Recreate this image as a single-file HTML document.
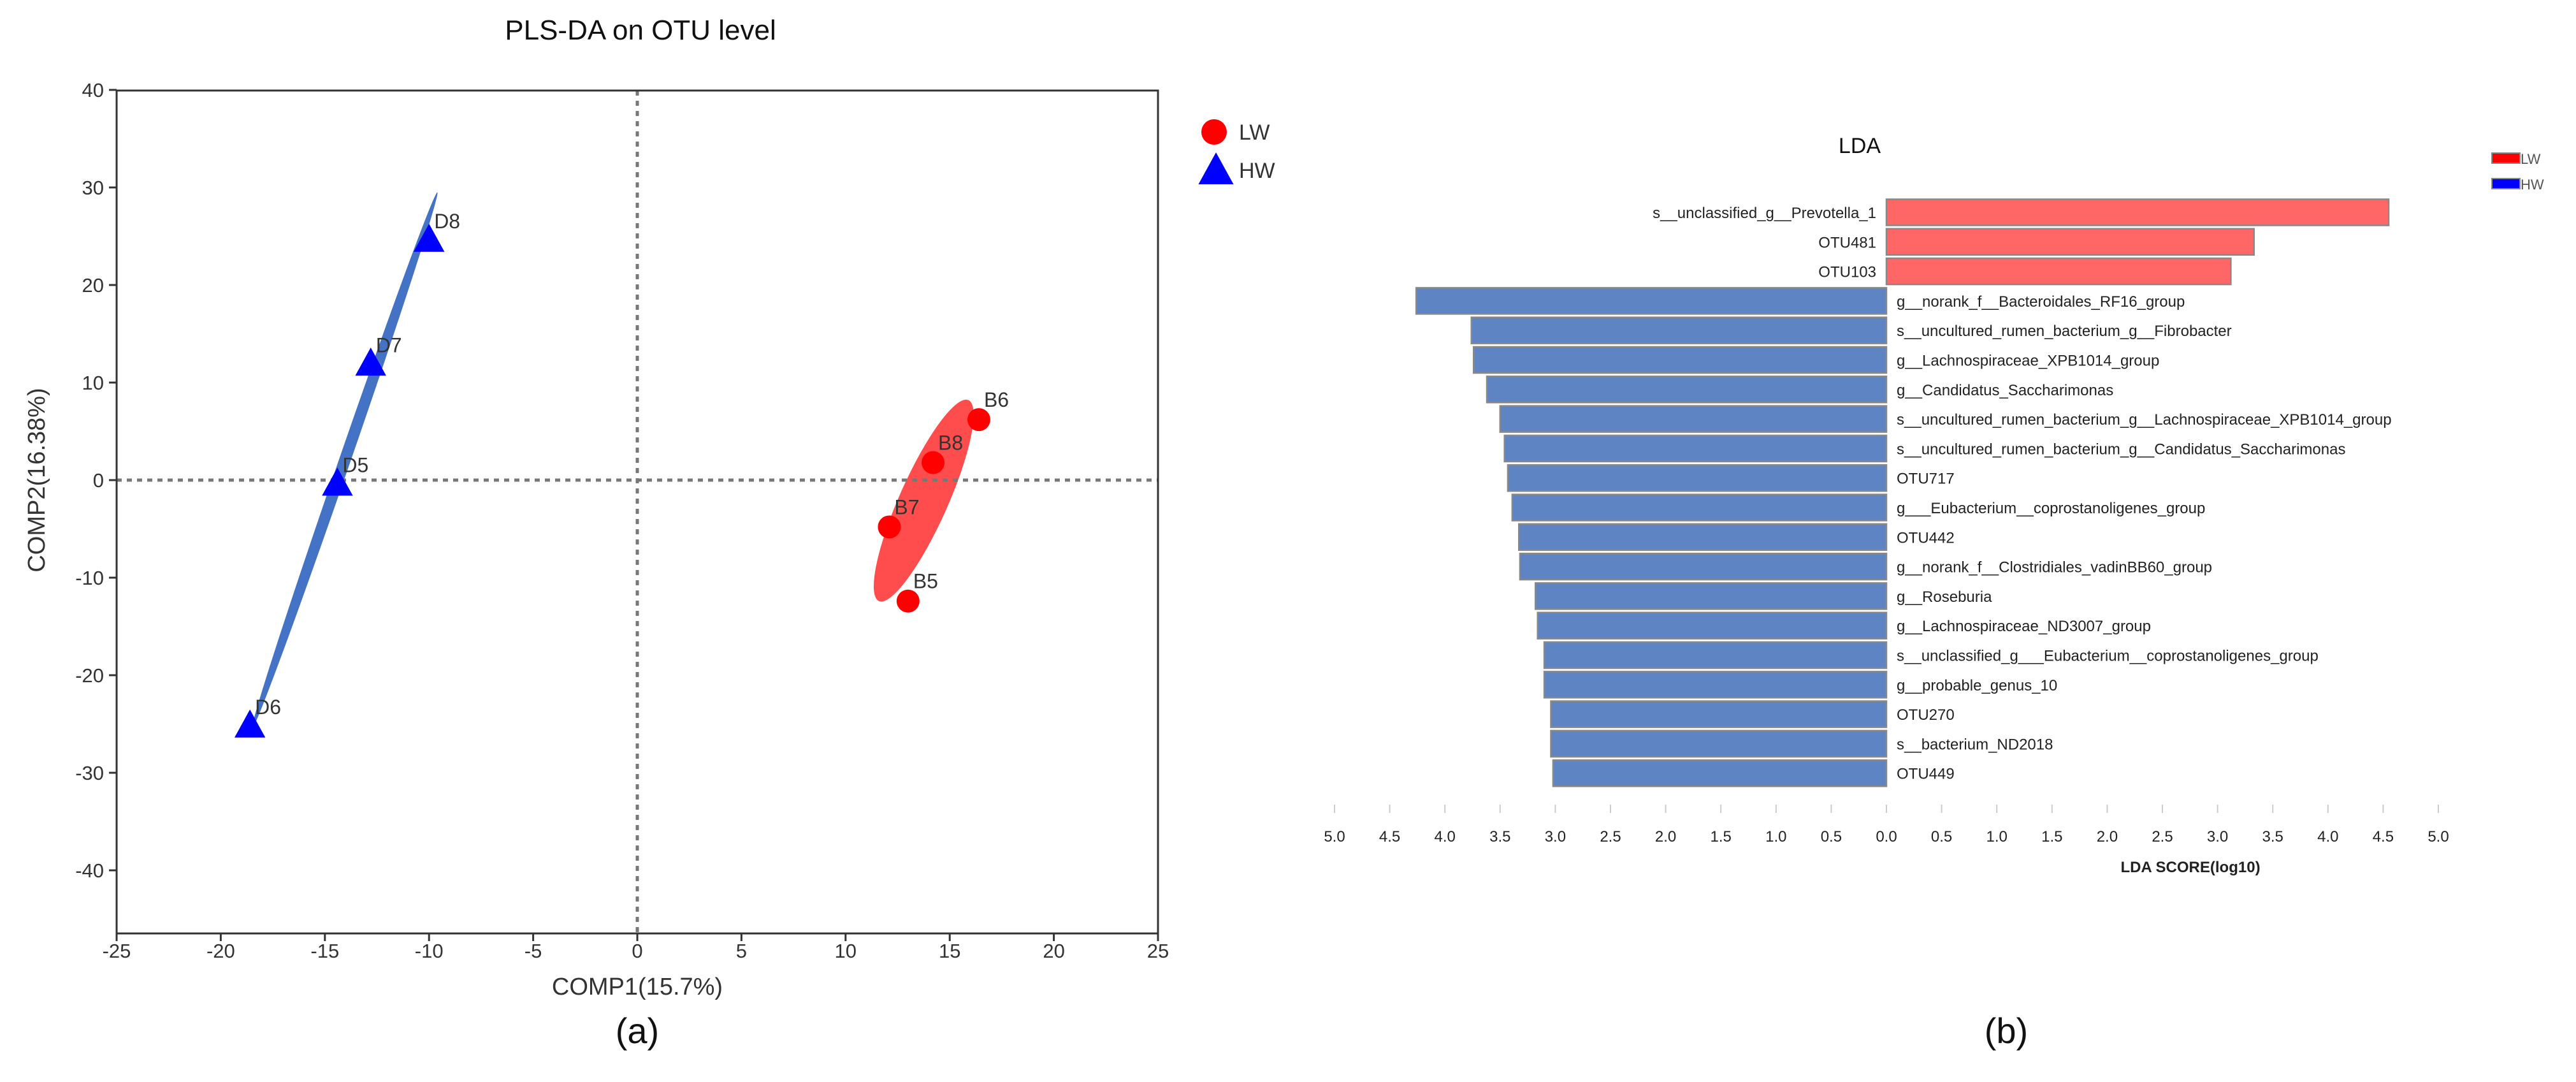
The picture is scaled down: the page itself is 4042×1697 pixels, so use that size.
<!DOCTYPE html>
<html><head><meta charset="utf-8"><style>
html,body{margin:0;padding:0;background:#fff}
svg{display:block;font-family:"Liberation Sans",Arial,sans-serif}
</style></head><body>
<svg id="fig" width="4042" height="1697" viewBox="0 0 4042 1697" xmlns="http://www.w3.org/2000/svg">
<g id="pls"></g>
<g id="lda"></g>
</svg>
<script>
// ---- PLS-DA data ----
const plsLabels = ["D8","D7","D5","D6","B6","B8","B7","B5"];
const plsX = [-10.0,-12.8,-14.4,-18.6,16.4,14.2,12.1,13.0];
const plsY = [24.5,11.8,-0.5,-25.3,6.2,1.8,-4.8,-12.4];
const plsGroup = ["HW","HW","HW","HW","LW","LW","LW","LW"];
const xTicks = [-25,-20,-15,-10,-5,0,5,10,15,20,25];
const yTicks = [40,30,20,10,0,-10,-20,-30,-40];
const blueEllipseEnds = [[-18.5,-25.5],[-9.6,29.5]];
const redEllipseEnds = [[15.9,8.2],[11.6,-12.4]];
// ---- LDA data ----
const ldaNames = ["s__unclassified_g__Prevotella_1","OTU481","OTU103","g__norank_f__Bacteroidales_RF16_group","s__uncultured_rumen_bacterium_g__Fibrobacter","g__Lachnospiraceae_XPB1014_group","g__Candidatus_Saccharimonas","s__uncultured_rumen_bacterium_g__Lachnospiraceae_XPB1014_group","s__uncultured_rumen_bacterium_g__Candidatus_Saccharimonas","OTU717","g___Eubacterium__coprostanoligenes_group","OTU442","g__norank_f__Clostridiales_vadinBB60_group","g__Roseburia","g__Lachnospiraceae_ND3007_group","s__unclassified_g___Eubacterium__coprostanoligenes_group","g__probable_genus_10","OTU270","s__bacterium_ND2018","OTU449"];
const ldaValues = [4.55,3.33,3.12,4.26,3.76,3.74,3.62,3.50,3.46,3.43,3.39,3.33,3.32,3.18,3.16,3.10,3.10,3.04,3.04,3.02];
const ldaGroup = ["LW","LW","LW","HW","HW","HW","HW","HW","HW","HW","HW","HW","HW","HW","HW","HW","HW","HW","HW","HW"];
const ldaTicks = [5.0,4.5,4.0,3.5,3.0,2.5,2.0,1.5,1.0,0.5,0.0,0.5,1.0,1.5,2.0,2.5,3.0,3.5,4.0,4.5,5.0];

const NS="http://www.w3.org/2000/svg";
function mk(parent,tag,attrs,text){const e=document.createElementNS(NS,tag);for(const k in attrs)e.setAttribute(k,attrs[k]);if(text!==undefined)e.textContent=text;parent.appendChild(e);return e;}

// ===== PLS-DA =====
const P=document.getElementById('pls');
const L=183,R=1817,T=142,B=1464;
const sx=v=>1000+v*(1817-183)/50;
const sy=v=>753-v*15.3;
let t=mk(P,'text',{x:1005,y:62,'font-size':44,'text-anchor':'middle',fill:'#111'},'PLS-DA on OTU level');


function ell(ends,minor,color,name){
  const x1=sx(ends[0][0]),y1=sy(ends[0][1]),x2=sx(ends[1][0]),y2=sy(ends[1][1]);
  const cx=(x1+x2)/2,cy=(y1+y2)/2,len=Math.hypot(x2-x1,y2-y1)/2,ang=Math.atan2(y2-y1,x2-x1)*180/Math.PI;
  const e=mk(P,'ellipse',{cx:cx,cy:cy,rx:len,ry:minor,fill:color,transform:`rotate(${ang} ${cx} ${cy})`});
  
  
}
ell(blueEllipseEnds,9,'#4472c4','hw-ellipse');
ell(redEllipseEnds,38,'#ff4d4d','lw-ellipse');
let z=mk(P,'line',{x1:L,x2:R,y1:sy(0),y2:sy(0),stroke:'#777','stroke-width':5,'stroke-dasharray':'8,8'});


z=mk(P,'line',{x1:sx(0),x2:sx(0),y1:T,y2:B,stroke:'#777','stroke-width':5,'stroke-dasharray':'8,8'});


let fr=mk(P,'rect',{x:L,y:T,width:R-L,height:B-T,fill:'none',stroke:'#333','stroke-width':3});


xTicks.forEach(v=>{
  const x=sx(v);
  mk(P,'line',{x1:x,x2:x,y1:B,y2:B+12,stroke:'#333','stroke-width':3});
  const tt=mk(P,'text',{x:x,y:B+38,'font-size':31,'text-anchor':'middle',fill:'#333'},String(v));
  
  
});
yTicks.forEach(v=>{
  const y=sy(v);
  mk(P,'line',{x1:L-12,x2:L,y1:y,y2:y,stroke:'#333','stroke-width':3});
  const tt=mk(P,'text',{x:L-20,y:y+11,'font-size':31,'text-anchor':'end',fill:'#333'},String(v));
  
  
});
t=mk(P,'text',{x:1000,y:1560,'font-size':38,'text-anchor':'middle',fill:'#333'},'COMP1(15.7%)');


t=mk(P,'text',{x:0,y:0,'font-size':38,'text-anchor':'middle',fill:'#333',transform:`translate(70,${sy(0)}) rotate(-90)`},'COMP2(16.38%)');


t=mk(P,'text',{x:1000,y:1636,'font-size':56,'text-anchor':'middle',fill:'#111'},'(a)');


function tri(x,y,s,g,name){const p=mk(g,'polygon',{points:`${x},${y-s*0.62} ${x-s*0.55},${y+s*0.38} ${x+s*0.55},${y+s*0.38}`,fill:'#0000ff'});}
plsLabels.forEach((lab,i)=>{
  const x=sx(plsX[i]),y=sy(plsY[i]);
  if(plsGroup[i]==='HW'){tri(x,y,44,P,'point-'+lab.toLowerCase());}
  else{const c=mk(P,'circle',{cx:x,cy:y,r:18,fill:'#ff0000'});}
  const tt=mk(P,'text',{x:x+8,y:y-20,'font-size':32,fill:'#333'},lab);
  
  
});
let lc=mk(P,'circle',{cx:1905,cy:207,r:20,fill:'#ff0000'});


tri(1908,270,50,P,'legend-hw-marker');
t=mk(P,'text',{x:1944,y:219,'font-size':34,fill:'#333'},'LW');


t=mk(P,'text',{x:1944,y:279,'font-size':34,fill:'#333'},'HW');



// ===== LDA =====
const D=document.getElementById('lda');
const X0=2960,U=173.2,row0=333,rowH=46.3,barH=41;
const lx=v=>v*U;
t=mk(D,'text',{x:2918,y:240,'font-size':34,'text-anchor':'middle',fill:'#111'},'LDA');


ldaNames.forEach((n,i)=>{
  const yc=row0+i*rowH, v=ldaValues[i], lw=ldaGroup[i]==='LW';
  const w=lx(v);
  const r=mk(D,'rect',{x:lw?X0:X0-w,y:yc-barH/2,width:w,height:barH,fill:lw?'#ff6666':'#5f84c4',stroke:'#888','stroke-width':2.5});
  
  
  const tt=mk(D,'text',{x:lw?X0-16:X0+16,y:yc+9,'font-size':24,'text-anchor':lw?'end':'start',fill:'#222'},n);
  
  
});
ldaTicks.forEach((v,i)=>{
  const x=X0+(i-10)*0.5*U;
  mk(D,'line',{x1:x,x2:x,y1:1262,y2:1275,stroke:'#ccc','stroke-width':2});
  const tt=mk(D,'text',{x:x,y:1320,'font-size':24,'text-anchor':'middle',fill:'#222'},v.toFixed(1));
  
  
});
t=mk(D,'text',{x:3437,y:1368,'font-size':24,'font-weight':'bold','text-anchor':'middle',fill:'#222'},'LDA SCORE(log10)');


let lr=mk(D,'rect',{x:3910,y:240,width:44,height:16,fill:'#ff0000',stroke:'#888','stroke-width':2});


lr=mk(D,'rect',{x:3910,y:280,width:44,height:16,fill:'#0000ff',stroke:'#888','stroke-width':2});


t=mk(D,'text',{x:3955,y:257,'font-size':22,fill:'#555'},'LW');


t=mk(D,'text',{x:3955,y:297,'font-size':22,fill:'#555'},'HW');


t=mk(D,'text',{x:3148,y:1636,'font-size':56,'text-anchor':'middle',fill:'#111'},'(b)');


</script>
</body></html>
